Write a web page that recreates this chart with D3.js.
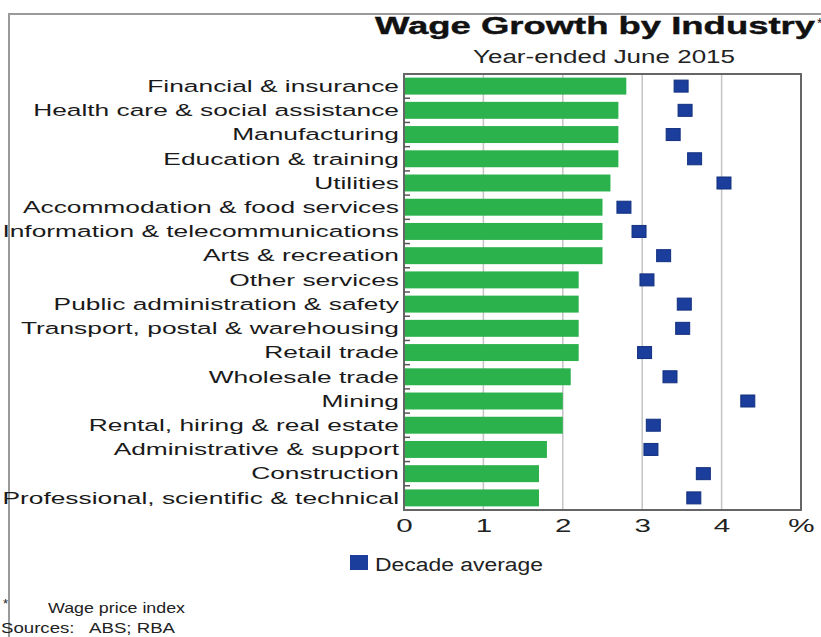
<!DOCTYPE html>
<html>
<head>
<meta charset="utf-8">
<script src="https://cdn.jsdelivr.net/npm/d3@7"></script>
<style>
  html, body { margin: 0; padding: 0; background: #fff; }
  svg { display: block; font-family: Arial, "Liberation Sans", sans-serif; }
  text { white-space: pre; }
</style>
</head>
<body>
<svg id="chart" width="821" height="637"></svg>
<script>
// Industries, top to bottom
const categories = [
  "Financial & insurance",
  "Health care & social assistance",
  "Manufacturing",
  "Education & training",
  "Utilities",
  "Accommodation & food services",
  "Information & telecommunications",
  "Arts & recreation",
  "Other services",
  "Public administration & safety",
  "Transport, postal & warehousing",
  "Retail trade",
  "Wholesale trade",
  "Mining",
  "Rental, hiring & real estate",
  "Administrative & support",
  "Construction",
  "Professional, scientific & technical"
];

// Year-ended wage growth to June 2015, per cent
const growth2015 = [2.8, 2.7, 2.7, 2.7, 2.6, 2.5, 2.5, 2.5, 2.2, 2.2, 2.2, 2.2, 2.1, 2.0, 2.0, 1.8, 1.7, 1.7];

// Decade average wage growth, per cent
const decadeAverage = [3.49, 3.54, 3.39, 3.66, 4.03, 2.77, 2.96, 3.27, 3.06, 3.53, 3.51, 3.03, 3.35, 4.33, 3.14, 3.11, 3.77, 3.65];

// Axis ticks
const xTicks = [0, 1, 2, 3, 4, 5];
const xTickLabels = ["0", "1", "2", "3", "4", "%"];
const gridValues = [1, 2, 3, 4];

const svg = d3.select("#chart");

const plot = { left: 404, right: 801, top: 74, bottom: 510 };

const x = d3.scaleLinear().domain([0, 5]).range([plot.left, plot.right]);
const y = d3.scaleBand().domain(categories).range([plot.top, plot.bottom])
  .paddingInner(0.3).paddingOuter(0.15);

// Horizontally widened text: place at (px, py) and stretch glyphs by sx
function placeText(sel, px, py, sx) {
  sel.attr("x", 0).attr("y", 0)
     .attr("transform", `translate(${px},${py}) scale(${sx},1)`);
  return sel;
}

// Outer frame
svg.append("line").attr("x1", 8).attr("x2", 821).attr("y1", 14).attr("y2", 14)
  .attr("stroke", "#9a9a9a").attr("stroke-width", 2);
svg.append("line").attr("x1", 9).attr("x2", 9).attr("y1", 14).attr("y2", 637)
  .attr("stroke", "#9a9a9a").attr("stroke-width", 2);

// Title and subtitle
svg.append("text").text("Wage Growth by Industry")
  .attr("x", 375).attr("y", 34)
  .attr("font-size", 24.5).attr("font-weight", "bold").attr("fill", "#111")
  .attr("stroke", "#111").attr("stroke-width", 0.4)
  .attr("textLength", 440).attr("lengthAdjust", "spacingAndGlyphs");
svg.append("text").text("*")
  .attr("x", 817).attr("y", 28)
  .attr("font-size", 14).attr("fill", "#111");
svg.append("text").text("Year-ended June 2015")
  .attr("x", 473).attr("y", 63)
  .attr("font-size", 18).attr("fill", "#222")
  .attr("textLength", 262).attr("lengthAdjust", "spacingAndGlyphs");

// Gridlines
svg.append("g").selectAll("line").data(gridValues).join("line")
  .attr("x1", d => x(d)).attr("x2", d => x(d))
  .attr("y1", plot.top).attr("y2", plot.bottom)
  .attr("stroke", "#c4c4c4").attr("stroke-width", 1.5);

// Bars
svg.append("g").selectAll("rect").data(categories).join("rect")
  .attr("x", x(0))
  .attr("y", d => y(d))
  .attr("width", (d, i) => x(growth2015[i]) - x(0))
  .attr("height", y.bandwidth())
  .attr("fill", "#2bb24d");

// Decade average markers
const mw = 14, mh = 12;
svg.append("g").selectAll("rect").data(categories).join("rect")
  .attr("x", (d, i) => x(decadeAverage[i]) - mw / 2)
  .attr("y", d => y(d) + y.bandwidth() / 2 - mh / 2)
  .attr("width", mw).attr("height", mh)
  .attr("fill", "#1b3d9b").attr("stroke", "#12307f").attr("stroke-width", 1);

// Plot border
svg.append("rect")
  .attr("x", plot.left).attr("y", plot.top)
  .attr("width", plot.right - plot.left).attr("height", plot.bottom - plot.top)
  .attr("fill", "none").attr("stroke", "#666").attr("stroke-width", 2);

// Category tick marks between bands
const boundaries = d3.range(1, categories.length).map(i => plot.top + i * y.step());
svg.append("g").selectAll("line").data(boundaries).join("line")
  .attr("x1", plot.left).attr("x2", plot.left + 6)
  .attr("y1", d => d).attr("y2", d => d)
  .attr("stroke", "#555").attr("stroke-width", 1.5);

// Category labels
svg.append("g").selectAll("text").data(categories).join("text")
  .text(d => d)
  .attr("text-anchor", "end")
  .attr("font-size", 17).attr("fill", "#1a1a1a")
  .each(function (d) {
    placeText(d3.select(this), 399, y(d) + y.bandwidth() / 2 + 5.8, 1.55);
  });

// X axis labels
const xAxis = d3.axisBottom(x)
  .tickValues(xTicks)
  .tickFormat((d, i) => xTickLabels[i])
  .tickSize(0).tickPadding(9);
const gx = svg.append("g").attr("transform", `translate(0,${plot.bottom})`).call(xAxis);
gx.select(".domain").remove();
gx.selectAll("text")
  .attr("font-size", 18.5).attr("fill", "#222")
  .attr("font-family", "Arial, 'Liberation Sans', sans-serif")
  .attr("transform", "scale(1.6,1)")
  .attr("x", 0);

// Legend
svg.append("rect").attr("x", 350).attr("y", 555).attr("width", 18).attr("height", 15)
  .attr("fill", "#1b3d9b");
svg.append("text").text("Decade average")
  .attr("x", 375).attr("y", 571)
  .attr("font-size", 18).attr("fill", "#222")
  .attr("textLength", 168).attr("lengthAdjust", "spacingAndGlyphs");

// Footnotes
svg.append("text").text("*").attr("x", 3).attr("y", 608)
  .attr("font-size", 13).attr("fill", "#222");
svg.append("text").text("Wage price index")
  .attr("x", 48).attr("y", 613)
  .attr("font-size", 15).attr("fill", "#222")
  .attr("textLength", 137).attr("lengthAdjust", "spacingAndGlyphs");
svg.append("text").text("Sources:   ABS; RBA")
  .attr("x", 1).attr("y", 633)
  .attr("font-size", 15).attr("fill", "#222")
  .attr("textLength", 174).attr("lengthAdjust", "spacingAndGlyphs");
</script>
</body>
</html>
